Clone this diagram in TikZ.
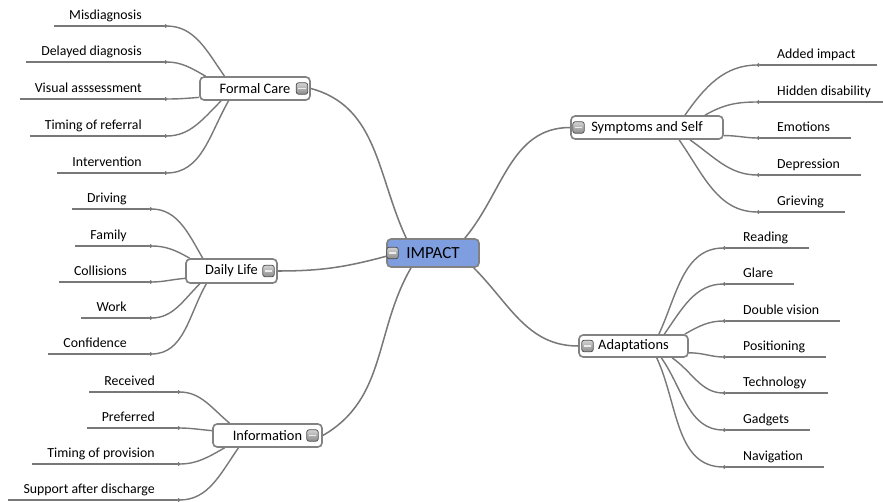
\documentclass[tikz,border=0pt]{standalone}
\usepackage{fontspec}
\setmainfont{Carlito}
\usetikzlibrary{arrows.meta}
\definecolor{linegray}{RGB}{120,120,120}
\definecolor{boxgray}{RGB}{130,130,130}
\definecolor{impactblue}{RGB}{127,158,224}

\begin{document}
\begin{tikzpicture}[
  x=0.03cm,
  y=-0.03cm,
  topic/.style={
    draw=boxgray,
    line width=1.4pt,
    rounded corners=3.5pt,
    fill=white,
    inner sep=0pt,
    text=black,
    font=\fontsize{12.3}{14}\selectfont
  },
  hub/.style={topic, fill=impactblue, font=\fontsize{14.5}{17}\selectfont},
  toggle/.style={
    draw=gray!60!black,
    line width=0.6pt,
    rounded corners=1.8pt,
    top color=gray!35,
    bottom color=gray!90,
    minimum size=0.34cm,
    inner sep=0pt,
    path picture={\draw[white!85!gray, line width=1.5pt]
      ([xshift=1.8pt]path picture bounding box.west) --
      ([xshift=-1.8pt]path picture bounding box.east);}
  },
  underline/.style={draw=linegray, line width=1.2pt},
  leaf/.style={
    inner ysep=5.1pt,
    text depth=0pt,
    text=black,
    font=\fontsize{11.8}{14}\selectfont,
    append after command={(\tikzlastnode.south west) edge[underline] (\tikzlastnode.south east)}
  },
  leafL/.style={leaf, anchor=south east, inner xsep=12.8pt, execute at end node={\hspace{6pt}}},
  leafR/.style={leaf, anchor=south west, inner xsep=14.5pt, execute at end node={\hspace{3.4pt}}},
  branch/.style={draw=linegray, line width=1.3pt},
  twig/.style={draw=linegray, line width=1.2pt, -{Circle[length=2.8pt]}}
]
  \useasboundingbox (0,0) rectangle (883,502);

  \node[hub, minimum width=2.76cm, minimum height=0.84cm] (imp) at (433,253) {IMPACT};

  \node[topic, minimum width=3.30cm, minimum height=0.69cm] (fc) at (255,88.5) {Formal Care};
  \node[topic, minimum width=2.73cm, minimum height=0.72cm] (dl) at (231.5,271) {Daily Life};
  \node[topic, minimum width=3.27cm, minimum height=0.69cm] (inf) at (267.5,435.5) {Information};
  \node[topic, minimum width=4.56cm, minimum height=0.69cm] (sym) at (647,127.5) {Symptoms and Self};
  \node[topic, minimum width=3.27cm, minimum height=0.66cm] (ad) at (633.5,346) {Adaptations};

  \node[leafL] (misdiag) at (164,26) {Misdiagnosis};
  \node[leafL] (delayed) at (164,62) {Delayed diagnosis};
  \node[leafL] (visual) at (164,99) {Visual asssessment};
  \node[leafL] (referral) at (164,136) {Timing of referral};
  \node[leafL] (interv) at (164,173) {Intervention};

  \node[leafL] (driving) at (149,209) {Driving};
  \node[leafL] (family) at (149,246) {Family};
  \node[leafL] (collis) at (149,282) {Collisions};
  \node[leafL] (work) at (149,318) {Work};
  \node[leafL] (confid) at (149,354) {Confidence};

  \node[leafL] (received) at (177,392) {Received};
  \node[leafL] (preferred) at (177,428) {Preferred};
  \node[leafL] (provision) at (177,464) {Timing of provision};
  \node[leafL] (support) at (177,500) {Support after discharge};

  \node[leafR] (added) at (760,65) {Added impact};
  \node[leafR] (hidden) at (760,102) {Hidden disability};
  \node[leafR] (emotions) at (760,138) {Emotions};
  \node[leafR] (depress) at (760,175) {Depression};
  \node[leafR] (grieving) at (760,212) {Grieving};

  \node[leafR] (reading) at (726,248) {Reading};
  \node[leafR] (glare) at (726,284) {Glare};
  \node[leafR] (double) at (726,321) {Double vision};
  \node[leafR] (position) at (726,357) {Positioning};
  \node[leafR] (techno) at (726,393) {Technology};
  \node[leafR] (gadgets) at (726,430) {Gadgets};
  \node[leafR] (navig) at (726,467) {Navigation};

  \draw[branch] (fc.east) to[out=-15,in=115] (imp.151);
  \draw[branch] (dl.east) to[out=0,in=195] (imp.184);
  \draw[branch] (inf.east) to[out=30,in=-120] (imp.214);
  \draw[branch] (imp.25) to[out=50,in=180] (sym.west);
  \draw[branch] (imp.-20) to[out=-45,in=180] (ad.west);

  \draw[twig] (fc.158) to[out=125,in=0] (misdiag.south east);
  \draw[twig] (fc.166) to[out=150,in=0] (delayed.south east);
  \draw[twig] (fc.189) to[out=185,in=0] (visual.south east);
  \draw[twig] (fc.200) to[out=225,in=0] (referral.south east);
  \draw[twig] (fc.205) to[out=240,in=0] (interv.south east);

  \draw[twig] (dl.156) to[out=120,in=0] (driving.south east);
  \draw[twig] (dl.163) to[out=150,in=0] (family.south east);
  \draw[twig] (dl.189) to[out=185,in=0] (collis.south east);
  \draw[twig] (dl.202) to[out=225,in=0] (work.south east);
  \draw[twig] (dl.207) to[out=240,in=0] (confid.south east);

  \draw[twig] (inf.162) to[out=140,in=0] (received.south east);
  \draw[twig] (inf.175) to[out=175,in=0] (preferred.south east);
  \draw[twig] (inf.196) to[out=210,in=0] (provision.south east);
  \draw[twig] (inf.203) to[out=235,in=0] (support.south east);

  \draw[twig] (sym.18) to[out=55,in=180] (added.south west);
  \draw[twig] (sym.12) to[out=30,in=180] (hidden.south west);
  \draw[twig] (sym.-6) to[out=0,in=180] (emotions.south west);
  \draw[twig] (sym.-16) to[out=-35,in=180] (depress.south west);
  \draw[twig] (sym.-21) to[out=-55,in=180] (grieving.south west);

  \draw[twig] (ad.25) to[out=65,in=180] (reading.south west);
  \draw[twig] (ad.21) to[out=55,in=180] (glare.south west);
  \draw[twig] (ad.13) to[out=30,in=180] (double.south west);
  \draw[twig] (ad.-7) to[out=0,in=180] (position.south west);
  \draw[twig] (ad.-17) to[out=-35,in=180] (techno.south west);
  \draw[twig] (ad.-23) to[out=-55,in=180] (gadgets.south west);
  \draw[twig] (ad.-27) to[out=-65,in=180] (navig.south west);

  \node[toggle] (impIcon) at (392.5,253) {};
  \node[toggle] (fcIcon) at (302,88.5) {};
  \node[toggle] (dlIcon) at (268.5,271) {};
  \node[toggle] (infIcon) at (312.5,435.5) {};
  \node[toggle] (symIcon) at (578.5,127.5) {};
  \node[toggle] (adIcon) at (587.5,346) {};
\end{tikzpicture}
\end{document}
